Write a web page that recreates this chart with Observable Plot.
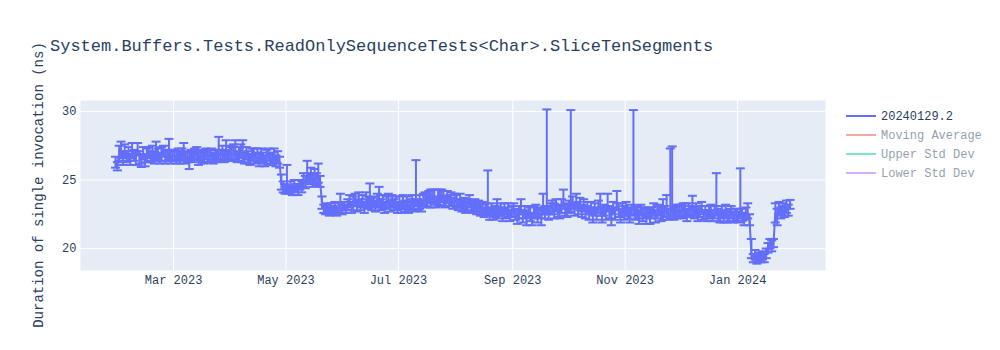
<!DOCTYPE html>
<html><head><meta charset="utf-8">
<script src="https://cdn.jsdelivr.net/npm/d3@7"></script>
<script src="https://cdn.jsdelivr.net/npm/@observablehq/plot@0.6"></script>
<style>body{margin:0;background:#fff;}</style>
</head><body><div id="chart"></div>
<script>
const chartTitle = "System.Buffers.Tests.ReadOnlySequenceTests<Char>.SliceTenSegments";
const yTitle = "Duration of single invocation (ns)";
const seriesNames = ["20240129.2", "Moving Average", "Upper Std Dev", "Lower Std Dev"];
const seriesColors = ["#636efa", "#EF553B", "#00cc96", "#ab63fa"];
const seriesVisible = [true, false, false, false];
const xTicks = ["2023-03-01", "2023-05-01", "2023-07-01", "2023-09-01", "2023-11-01", "2024-01-01"];
const yTicks = [20, 25, 30];

const dates = [
  "2023-01-28","2023-01-29","2023-01-30","2023-01-31",
  "2023-02-01","2023-02-02","2023-02-03","2023-02-04","2023-02-05","2023-02-06","2023-02-07","2023-02-08","2023-02-09","2023-02-10",
  "2023-02-11","2023-02-12","2023-02-13","2023-02-14","2023-02-15","2023-02-16","2023-02-17","2023-02-18","2023-02-19","2023-02-20",
  "2023-02-21","2023-02-22","2023-02-23","2023-02-24","2023-02-25","2023-02-26","2023-02-27","2023-02-28",
  "2023-03-01","2023-03-02","2023-03-03","2023-03-04","2023-03-05","2023-03-06","2023-03-07","2023-03-08","2023-03-09","2023-03-10",
  "2023-03-11","2023-03-12","2023-03-13","2023-03-14","2023-03-15","2023-03-16","2023-03-17","2023-03-18","2023-03-19","2023-03-20",
  "2023-03-21","2023-03-22","2023-03-23","2023-03-24","2023-03-25","2023-03-26","2023-03-27","2023-03-28","2023-03-29","2023-03-30",
  "2023-03-31",
  "2023-04-01","2023-04-02","2023-04-03","2023-04-04","2023-04-05","2023-04-06","2023-04-07","2023-04-08","2023-04-09","2023-04-10",
  "2023-04-11","2023-04-12","2023-04-13","2023-04-14","2023-04-15","2023-04-16","2023-04-17","2023-04-18","2023-04-19","2023-04-20",
  "2023-04-21","2023-04-22","2023-04-23","2023-04-24","2023-04-25","2023-04-26","2023-04-27","2023-04-28","2023-04-29","2023-04-30",
  "2023-05-01","2023-05-02","2023-05-03","2023-05-04","2023-05-05","2023-05-06","2023-05-07","2023-05-08","2023-05-09","2023-05-10",
  "2023-05-11","2023-05-12","2023-05-13","2023-05-14","2023-05-15","2023-05-16","2023-05-17","2023-05-18","2023-05-19","2023-05-20",
  "2023-05-21","2023-05-22","2023-05-23","2023-05-24","2023-05-25","2023-05-26","2023-05-27","2023-05-28","2023-05-29","2023-05-30",
  "2023-05-31",
  "2023-06-01","2023-06-02","2023-06-03","2023-06-04","2023-06-05","2023-06-06","2023-06-07","2023-06-08","2023-06-09","2023-06-10",
  "2023-06-11","2023-06-12","2023-06-13","2023-06-14","2023-06-15","2023-06-16","2023-06-17","2023-06-18","2023-06-19","2023-06-20",
  "2023-06-21","2023-06-22","2023-06-23","2023-06-24","2023-06-25","2023-06-26","2023-06-27","2023-06-28","2023-06-29","2023-06-30",
  "2023-07-01","2023-07-02","2023-07-03","2023-07-04","2023-07-05","2023-07-06","2023-07-07","2023-07-08","2023-07-09","2023-07-10",
  "2023-07-11","2023-07-12","2023-07-13","2023-07-14","2023-07-15","2023-07-16","2023-07-17","2023-07-18","2023-07-19","2023-07-20",
  "2023-07-21","2023-07-22","2023-07-23","2023-07-24","2023-07-25","2023-07-26","2023-07-27","2023-07-28","2023-07-29","2023-07-30",
  "2023-07-31",
  "2023-08-01","2023-08-02","2023-08-03","2023-08-04","2023-08-05","2023-08-06","2023-08-07","2023-08-08","2023-08-09","2023-08-10",
  "2023-08-11","2023-08-12","2023-08-13","2023-08-14","2023-08-15","2023-08-16","2023-08-17","2023-08-18","2023-08-19","2023-08-20",
  "2023-08-21","2023-08-22","2023-08-23","2023-08-24","2023-08-25","2023-08-26","2023-08-27","2023-08-28","2023-08-29","2023-08-30",
  "2023-08-31",
  "2023-09-01","2023-09-02","2023-09-03","2023-09-04","2023-09-05","2023-09-06","2023-09-07","2023-09-08","2023-09-09","2023-09-10",
  "2023-09-11","2023-09-12","2023-09-13","2023-09-14","2023-09-15","2023-09-16","2023-09-17","2023-09-18","2023-09-19","2023-09-20",
  "2023-09-21","2023-09-22","2023-09-23","2023-09-24","2023-09-25","2023-09-26","2023-09-27","2023-09-28","2023-09-29","2023-09-30",
  "2023-10-01","2023-10-02","2023-10-03","2023-10-04","2023-10-05","2023-10-06","2023-10-07","2023-10-08","2023-10-09","2023-10-10",
  "2023-10-11","2023-10-12","2023-10-13","2023-10-14","2023-10-15","2023-10-16","2023-10-17","2023-10-18","2023-10-19","2023-10-20",
  "2023-10-21","2023-10-22","2023-10-23","2023-10-24","2023-10-25","2023-10-26","2023-10-27","2023-10-28","2023-10-29","2023-10-30",
  "2023-10-31",
  "2023-11-01","2023-11-02","2023-11-03","2023-11-04","2023-11-05","2023-11-06","2023-11-07","2023-11-08","2023-11-09","2023-11-10",
  "2023-11-11","2023-11-12","2023-11-13","2023-11-14","2023-11-15","2023-11-16","2023-11-17","2023-11-18","2023-11-19","2023-11-20",
  "2023-11-21","2023-11-22","2023-11-23","2023-11-24","2023-11-25","2023-11-26","2023-11-27","2023-11-28","2023-11-29","2023-11-30",
  "2023-12-01","2023-12-02","2023-12-03","2023-12-04","2023-12-05","2023-12-06","2023-12-07","2023-12-08","2023-12-09","2023-12-10",
  "2023-12-11","2023-12-12","2023-12-13","2023-12-14","2023-12-15","2023-12-16","2023-12-17","2023-12-18","2023-12-19","2023-12-20",
  "2023-12-21","2023-12-22","2023-12-23","2023-12-24","2023-12-25","2023-12-26","2023-12-27","2023-12-28","2023-12-29","2023-12-30",
  "2023-12-31",
  "2024-01-01","2024-01-02","2024-01-03","2024-01-04","2024-01-05","2024-01-06","2024-01-07","2024-01-08","2024-01-09","2024-01-10",
  "2024-01-11","2024-01-12","2024-01-13","2024-01-14","2024-01-15","2024-01-16","2024-01-17","2024-01-18","2024-01-19","2024-01-20",
  "2024-01-21","2024-01-22","2024-01-23","2024-01-24","2024-01-25","2024-01-26","2024-01-27","2024-01-28","2024-01-29"
];

const means = [
  26.3,26.0,26.9,27.1,
  26.6,27.0,26.7,26.9,26.5,27.1,26.8,26.6,27.2,26.7, 26.5,26.9,26.4,26.8,27.0,26.7,26.9,26.6,27.0,26.8, 26.6,26.9,27.1,26.7,26.8,26.9,26.6,26.8,
  26.8,26.6,26.9,26.7,26.8,26.9,26.6,26.7,26.5,26.8, 26.7,26.9,26.9,26.6,26.8,26.7,26.6,26.9,26.8,26.7, 26.9,26.6,26.8,26.7,26.9,26.8,27.0,26.7,26.9,26.8, 27.0,
  26.9,26.8,27.0,26.7,26.9,27.0,26.8,26.6,26.9,26.7, 26.5,26.8,26.9,26.6,26.7,26.5,26.8,26.6,26.4,26.7, 26.8,26.5,26.6,26.7,26.4,26.6,26.3,24.7,24.5,24.3,
  24.6,24.3,24.5,24.2,24.6,24.4,24.3,24.6,24.5,25.0, 24.8,25.3,25.1,25.4,24.9,25.2,25.0,25.3,24.9,23.3, 22.9,22.8,23.0,22.7,22.9,22.8,23.0,22.7,22.9,23.0, 22.8,
  23.1,22.9,23.2,23.4,23.0,23.3,23.5,23.1,23.6,23.2, 23.4,23.0,23.5,23.3,23.6,23.2,23.4,23.1,23.5,23.5, 23.2,23.4,23.0,23.3,23.5,23.1,23.4,23.2,23.3,23.0,
  23.3,23.0,23.4,23.1,23.3,23.0,23.2,23.4,23.1,23.5, 23.2,23.4,23.1,23.5,23.6,23.4,23.7,23.5,23.8,23.6, 23.4,23.7,23.5,23.8,23.6,23.4,23.7,23.5,23.6,23.3, 23.5,
  23.4,23.2,23.5,23.1,23.3,23.0,23.2,23.4,23.1,23.0, 23.2,22.9,23.1,22.8,23.0,22.7,22.9,22.8,22.6,22.9, 22.5,22.7,22.9,22.6,22.8,22.5,22.9,22.6,22.8,22.4, 22.7,
  22.8,22.5,22.3,22.7,22.9,22.4,22.6,22.3,22.7,22.5, 22.2,22.6,22.8,22.4,22.6,22.3,22.9,22.7,23.0,22.6, 22.9,23.0,22.7,23.1,22.8,22.6,23.1,23.3,22.9,22.7,
  23.0,23.2,23.3,22.9,23.4,23.0,23.2,22.8,23.1,22.7, 22.9,22.6,22.9,22.5,22.8,22.6,23.0,22.9,22.5,22.8, 22.6,23.1,22.7,22.4,22.9,22.6,23.2,22.8,22.5,22.8, 22.6,
  22.9,22.6,22.4,22.8,23.0,22.5,22.7,22.3,22.8,22.5, 22.6,22.4,22.7,22.3,22.6,22.8,22.4,22.6,22.8,22.5, 22.5,22.7,22.8,22.5,22.6,22.9,22.5,22.8,22.6,22.8,
  22.6,22.9,22.7,22.5,22.8,22.7,23.0,22.6,22.8,22.5, 22.7,22.9,22.5,22.7,22.4,22.6,22.8,22.4,22.6,22.8, 22.5,22.3,22.6,22.4,22.7,22.3,22.5,22.6,22.3,22.5, 22.4,
  22.3,22.6,22.4,22.2,22.5,22.6,22.1,19.6,19.3,19.5, 19.2,19.4,19.3,19.5,19.3,19.6,20.0,20.3,20.1,20.4, 22.6,22.3,22.9,22.6,22.8,22.7,23.0,22.8,23.2
];

const errsUp = [
  0.4,0.3,0.6,0.7,
  0.5,0.6,0.4,0.5,0.4,0.6,0.4,0.5,0.5,0.4, 0.4,0.5,0.4,0.5,0.4,0.4,0.6,0.4,0.8,0.5, 0.4,0.5,0.4,0.5,0.4,1.1,0.5,0.4,
  0.4,0.5,0.4,0.4,0.5,0.8,0.4,0.4,0.5,0.4, 0.4,0.4,0.5,0.4,0.4,0.4,0.5,0.4,0.4,0.5, 0.4,0.4,0.4,0.5,1.25,0.4,0.5,0.4,1.0,0.4, 0.5,
  0.5,0.8,0.9,0.4,0.5,0.6,1.1,0.4,0.5,0.4, 0.4,0.5,0.4,0.4,0.6,0.4,0.5,0.4,0.4,0.5, 0.5,0.4,0.4,0.6,0.4,0.5,0.4,0.7,0.4,0.4,
  1.5,0.3,0.4,0.3,0.4,0.3,0.4,0.4,0.4,0.5, 0.5,1.1,0.4,0.5,0.5,0.6,0.5,0.9,0.4,0.5, 0.3,0.4,0.3,0.3,0.4,0.3,0.4,0.3,0.4,1.0, 0.4,
  0.3,0.3,0.4,0.5,0.4,0.5,0.5,0.4,0.5,0.4, 0.5,0.4,0.6,0.5,1.15,0.5,0.4,0.4,0.5,1.0, 0.4,0.5,0.4,0.5,0.5,0.4,0.5,0.4,0.5,0.4,
  0.5,0.4,0.5,0.4,0.5,0.4,0.4,0.5,0.4,2.95, 0.4,0.5,0.4,0.5,0.5,0.5,0.5,0.8,0.5,0.7, 0.4,0.6,0.8,0.5,0.6,0.4,0.5,0.4,0.5,0.4, 0.5,
  0.5,0.4,0.5,0.4,0.4,0.4,0.4,0.5,0.4,0.4, 0.4,0.4,0.4,0.4,0.4,0.3,0.4,2.9,0.4,0.4, 0.4,0.4,0.7,0.4,0.5,0.4,0.4,0.4,0.5,0.4, 0.4,
  0.5,0.4,0.5,0.4,0.7,0.4,0.5,0.4,0.4,0.5, 0.4,0.5,0.4,0.5,0.4,0.5,1.1,0.4,7.15,0.5, 0.4,0.5,0.6,0.5,0.4,0.5,0.5,1.0,0.4,0.5,
  0.5,6.9,0.5,0.4,0.6,0.4,0.5,0.4,0.5,0.4, 0.5,0.4,0.5,0.4,0.5,0.4,0.5,1.1,0.5,0.4, 0.5,0.9,0.4,0.5,0.5,0.4,1.0,0.5,0.4,0.5, 0.5,
  0.5,0.4,0.5,0.4,7.1,0.5,0.4,0.5,0.4,0.5, 0.4,0.5,0.3,0.5,0.4,0.5,0.4,0.5,0.4,0.5, 1.1,0.4,1.1,0.4,4.7,4.55,0.5,0.4,0.5,0.4,
  0.5,0.4,0.6,0.4,0.5,0.4,0.85,0.4,0.5,0.4, 0.4,0.5,0.3,0.4,0.4,0.5,0.4,0.4,0.5,2.7, 0.4,0.4,0.5,0.4,0.5,0.4,0.4,0.5,0.4,0.4, 0.5,
  0.4,3.25,0.5,0.4,0.5,0.7,0.4,1.1,0.3,0.4, 0.3,0.3,0.4,0.3,0.3,0.4,0.4,0.4,0.5,0.3, 0.7,0.6,0.5,0.4,0.5,0.4,0.5,0.4,0.35
];

const errsDown = [
  0.4,0.3,0.5,0.5,
  0.5,0.4,0.4,0.5,0.4,0.5,0.4,0.5,0.4,0.5, 0.55,0.4,0.4,0.5,0.4,0.4,0.5,0.4,0.5,0.4, 0.4,0.5,0.4,0.5,0.4,0.5,0.4,0.4,
  0.4,0.4,0.4,0.5,0.4,0.4,0.4,0.4,0.7,0.4, 0.4,0.4,0.4,0.5,0.4,0.4,0.4,0.4,0.5,0.4, 0.4,0.4,0.4,0.4,0.4,0.4,0.5,0.4,0.4,0.4, 0.5,
  0.5,0.4,0.5,0.4,0.5,0.4,0.5,0.4,0.4,0.5, 0.4,0.4,0.5,0.4,0.4,0.5,0.4,0.4,0.4,0.5, 0.4,0.4,0.5,0.4,0.4,0.4,0.4,0.4,0.4,0.3,
  0.4,0.3,0.4,0.3,0.4,0.3,0.4,0.3,0.4,0.5, 0.4,0.5,0.4,0.5,0.4,0.5,0.4,0.5,0.4,0.4, 0.3,0.3,0.3,0.3,0.3,0.3,0.4,0.3,0.3,0.4, 0.3,
  0.3,0.3,0.4,0.4,0.4,0.5,0.4,0.4,0.5,0.4, 0.4,0.4,0.5,0.4,0.5,0.4,0.4,0.4,0.5,0.4, 0.4,0.5,0.4,0.4,0.5,0.4,0.4,0.4,0.5,0.4,
  0.4,0.4,0.5,0.4,0.4,0.4,0.4,0.5,0.4,0.4, 0.4,0.5,0.4,0.4,0.5,0.4,0.4,0.5,0.4,0.4, 0.4,0.5,0.4,0.4,0.5,0.4,0.4,0.4,0.5,0.4, 0.4,
  0.4,0.4,0.4,0.4,0.4,0.4,0.4,0.4,0.4,0.4, 0.4,0.4,0.4,0.4,0.4,0.4,0.4,0.4,0.5,0.4, 0.4,0.4,0.5,0.4,0.4,0.5,0.4,0.4,0.5,0.4, 0.4,
  0.5,0.4,0.5,0.5,0.4,0.5,0.4,0.6,0.4,0.5, 0.5,0.4,0.5,0.5,0.4,0.6,0.4,0.5,0.5,0.5, 0.4,0.5,0.5,0.4,0.5,0.4,0.5,0.4,0.5,0.4,
  0.4,0.5,0.4,0.5,0.4,0.5,0.4,0.5,0.4,0.5, 0.4,0.5,0.4,0.6,0.4,0.5,0.4,0.5,0.6,0.4, 0.5,0.4,0.5,0.7,0.4,0.5,0.4,0.5,0.6,0.4, 0.5,
  0.5,0.4,0.5,0.4,0.5,0.4,0.5,0.5,0.4,0.5, 0.4,0.6,0.4,0.5,0.4,0.4,0.5,0.4,0.4,0.5, 0.4,0.4,0.5,0.4,0.4,0.5,0.4,0.5,0.4,0.4,
  0.4,0.5,0.4,0.5,0.4,0.4,0.5,0.4,0.4,0.5, 0.4,0.4,0.4,0.5,0.4,0.4,0.5,0.4,0.4,0.4, 0.5,0.4,0.4,0.5,0.4,0.4,0.5,0.4,0.4,0.5, 0.4,
  0.4,0.4,0.4,0.5,0.4,0.4,0.4,0.3,0.3,0.3, 0.3,0.3,0.3,0.3,0.3,0.3,0.3,0.3,0.3,0.3, 0.7,0.6,0.4,0.4,0.4,0.4,0.4,0.4,0.3
];

console.log(dates.length, means.length, errsUp.length, errsDown.length);

const data = dates.map((d, i) => ({date: new Date(d + "T12:00:00Z"), mean: means[i], up: errsUp[i], down: errsDown[i]}));
const font = "'Courier New', 'Liberation Mono', monospace";
const textColor = "#2a3f5f";
const capSymbol = {draw(ctx) { ctx.moveTo(-4.5, 0); ctx.lineTo(4.5, 0); }};
const tickDates = xTicks.map(d => new Date(d + "T00:00:00Z"));

const chart = Plot.plot({
  width: 1000, height: 350,
  marginLeft: 80, marginRight: 175, marginTop: 100, marginBottom: 80,
  style: {fontFamily: font, fontSize: "12px", color: textColor, background: "#fff"},
  x: {type: "utc", domain: [new Date("2023-01-09T12:00:00Z"), new Date("2024-02-17T17:00:00Z")],
      ticks: tickDates, tickFormat: d3.utcFormat("%b %Y"), tickSize: 0, tickPadding: 5, label: null},
  y: {domain: [18.4, 30.8], ticks: yTicks, tickSize: 0, tickPadding: 4, label: null},
  marks: [
    Plot.frame({fill: "#E5ECF6", stroke: "none"}),
    Plot.gridX({ticks: tickDates, stroke: "#fff", strokeOpacity: 1, strokeWidth: 1}),
    Plot.gridY({ticks: yTicks, stroke: "#fff", strokeOpacity: 1, strokeWidth: 1}),
    Plot.ruleX(data, {x: "date", y1: d => d.mean - d.down, y2: d => d.mean + d.up, stroke: seriesColors[0], strokeWidth: 2}),
    Plot.dot(data, {x: "date", y: d => d.mean + d.up, symbol: capSymbol, stroke: seriesColors[0], strokeWidth: 2, fill: "none"}),
    Plot.dot(data, {x: "date", y: d => d.mean - d.down, symbol: capSymbol, stroke: seriesColors[0], strokeWidth: 2, fill: "none"}),
    Plot.line(data, {x: "date", y: "mean", stroke: seriesColors[0], strokeWidth: 2})
  ]
});

const svg = d3.select(chart);
svg.append("text").attr("x", 50).attr("y", 51).attr("text-anchor", "start")
  .attr("font-family", font).attr("font-size", 17).attr("fill", textColor)
  .text(chartTitle);
svg.append("text").attr("transform", "translate(43,185) rotate(-90)")
  .attr("text-anchor", "middle")
  .attr("font-family", font).attr("font-size", 14).attr("fill", textColor)
  .text(yTitle);
const lg = svg.append("g");
seriesNames.forEach((name, i) => {
  const y = 116 + i * 19;
  const g = lg.append("g").attr("opacity", seriesVisible[i] ? 1 : 0.5);
  g.append("line").attr("x1", 846).attr("x2", 876).attr("y1", y).attr("y2", y)
    .attr("stroke", seriesColors[i]).attr("stroke-width", 2);
  g.append("text").attr("x", 881).attr("y", y + 4).attr("text-anchor", "start")
    .attr("font-family", font).attr("font-size", 12).attr("fill", textColor)
    .text(name);
});
document.getElementById("chart").appendChild(chart);
</script>
</body></html>
